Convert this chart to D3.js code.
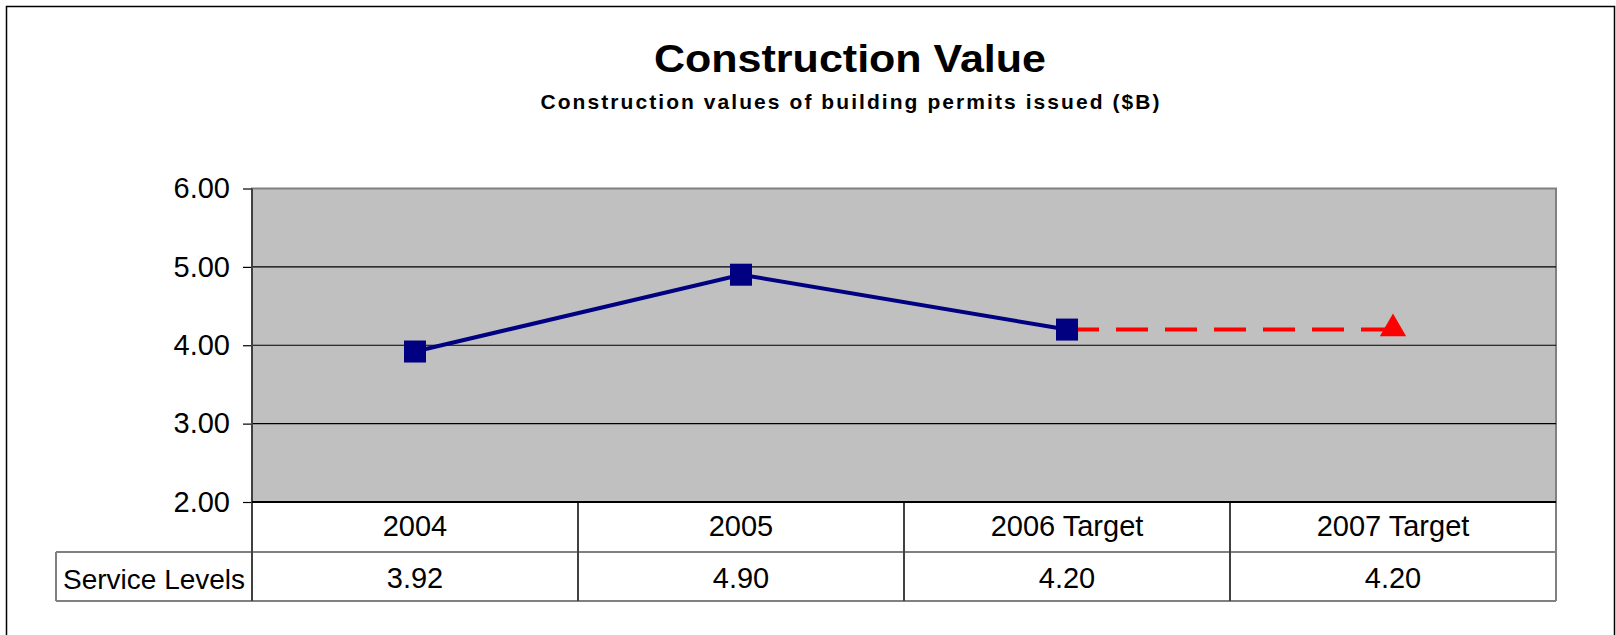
<!DOCTYPE html>
<html>
<head>
<meta charset="utf-8">
<script src="https://cdn.jsdelivr.net/npm/d3@7"></script>
<style>
  body { margin: 0; background: #fff; }
  svg { display: block; font-family: Arial, "Liberation Sans", sans-serif; }
</style>
</head>
<body>
<script>
// Chart data.
const categories = ["2004", "2005", "2006 Target", "2007 Target"];
const serviceLevels = [3.92, 4.9, 4.2, 4.2];
const actual = [3.92, 4.9, 4.2, null];
const target = [null, null, 4.2, 4.2];
const yTicks = [2, 3, 4, 5, 6];
const rowLabel = "Service Levels";
const title = "Construction Value";
const subtitle = "Construction values of building permits issued ($B)";

// Declare the chart dimensions and margins.
const width = 1616;
const height = 635;
const marginTop = 188.5;
const marginRight = 60;
const marginLeft = 252;
const plotBottom = 502;
const rowHeight = 50;
const labelLeft = 56;
const fontSize = 29;

const svg = d3
  .select("body")
  .append("svg")
  .attr("width", width)
  .attr("height", height)
  .attr("viewBox", [0, 0, width, height]);

// Outer frame (bottom edge runs off the picture).
svg
  .append("rect")
  .attr("x", 6.5)
  .attr("y", 6.5)
  .attr("width", 1608)
  .attr("height", 700)
  .attr("fill", "none")
  .attr("stroke", "#000")
  .attr("stroke-width", 1.5);

// Titles.
svg
  .append("text")
  .attr("x", 850)
  .attr("y", 72)
  .attr("text-anchor", "middle")
  .attr("font-size", 38)
  .attr("font-weight", "bold")
  .attr("textLength", 392)
  .attr("lengthAdjust", "spacingAndGlyphs")
  .text(title);

svg
  .append("text")
  .attr("x", 850)
  .attr("y", 109)
  .attr("text-anchor", "middle")
  .attr("font-size", 21)
  .attr("font-weight", "bold")
  .attr("textLength", 619)
  .attr("lengthAdjust", "spacing")
  .text(subtitle);

// Scales.
const x = d3
  .scaleBand()
  .domain(categories)
  .range([marginLeft, width - marginRight]);

const y = d3.scaleLinear([2, 6], [plotBottom, marginTop]);

// Plot area.
svg
  .append("rect")
  .attr("x", marginLeft)
  .attr("y", marginTop)
  .attr("width", width - marginRight - marginLeft)
  .attr("height", plotBottom - marginTop)
  .attr("fill", "#c0c0c0")
  .attr("stroke", "#808080")
  .attr("stroke-width", 2);

// Gridlines.
svg
  .append("g")
  .selectAll("line")
  .data(yTicks.filter((d) => d > 2 && d < 6))
  .join("line")
  .attr("x1", marginLeft)
  .attr("x2", width - marginRight)
  .attr("y1", (d) => y(d))
  .attr("y2", (d) => y(d))
  .attr("stroke", "#000")
  .attr("stroke-width", 1.2);

// Y axis.
svg
  .append("g")
  .attr("transform", `translate(${marginLeft},0)`)
  .call(
    d3
      .axisLeft(y)
      .tickValues(yTicks)
      .tickFormat(d3.format(".2f"))
      .tickSize(9)
      .tickPadding(13),
  )
  .call((g) => g.select(".domain").remove())
  .call((g) => g.selectAll(".tick line").attr("stroke", "#000").attr("stroke-width", 1.2))
  .call((g) =>
    g
      .selectAll(".tick text")
      .attr("font-size", fontSize)
      .attr("font-family", "Arial, 'Liberation Sans', sans-serif")
      .attr("fill", "#000"),
  );

// Data table below the plot.
const table = svg.append("g");
const tableBottom = plotBottom + 2 * rowHeight - 1;

table
  .selectAll("text.cat")
  .data(categories)
  .join("text")
  .attr("class", "cat")
  .attr("x", (d) => x(d) + x.bandwidth() / 2)
  .attr("y", plotBottom + 34)
  .attr("text-anchor", "middle")
  .attr("font-size", fontSize)
  .text((d) => d);

table
  .selectAll("text.val")
  .data(serviceLevels)
  .join("text")
  .attr("class", "val")
  .attr("x", (d, i) => x(categories[i]) + x.bandwidth() / 2)
  .attr("y", plotBottom + 86)
  .attr("text-anchor", "middle")
  .attr("font-size", fontSize)
  .text((d) => d3.format(".2f")(d));

table
  .append("text")
  .attr("x", labelLeft + 7)
  .attr("y", plotBottom + 87)
  .attr("font-size", 28)
  .text(rowLabel);

// Table horizontal rules.
table
  .append("line")
  .attr("x1", labelLeft)
  .attr("x2", width - marginRight)
  .attr("y1", plotBottom + rowHeight)
  .attr("y2", plotBottom + rowHeight)
  .attr("stroke", "#808080")
  .attr("stroke-width", 2);

table
  .append("line")
  .attr("x1", labelLeft)
  .attr("x2", width - marginRight)
  .attr("y1", tableBottom)
  .attr("y2", tableBottom)
  .attr("stroke", "#808080")
  .attr("stroke-width", 2);

// Table vertical rules.
table
  .selectAll("line.div")
  .data(categories.slice(1))
  .join("line")
  .attr("class", "div")
  .attr("x1", (d) => x(d))
  .attr("x2", (d) => x(d))
  .attr("y1", plotBottom)
  .attr("y2", tableBottom)
  .attr("stroke", "#404040")
  .attr("stroke-width", 2);

table
  .append("line")
  .attr("x1", width - marginRight)
  .attr("x2", width - marginRight)
  .attr("y1", plotBottom)
  .attr("y2", tableBottom)
  .attr("stroke", "#808080")
  .attr("stroke-width", 2);

table
  .append("line")
  .attr("x1", labelLeft)
  .attr("x2", labelLeft)
  .attr("y1", plotBottom + rowHeight)
  .attr("y2", tableBottom)
  .attr("stroke", "#808080")
  .attr("stroke-width", 2);

// Left axis line, running down through the table.
svg
  .append("line")
  .attr("x1", marginLeft)
  .attr("x2", marginLeft)
  .attr("y1", marginTop)
  .attr("y2", tableBottom)
  .attr("stroke", "#404040")
  .attr("stroke-width", 2);

// Category axis at 2.00.
svg
  .append("line")
  .attr("x1", marginLeft)
  .attr("x2", width - marginRight)
  .attr("y1", plotBottom)
  .attr("y2", plotBottom)
  .attr("stroke", "#000")
  .attr("stroke-width", 2);

// Series lines.
const line = d3
  .line()
  .defined((d) => d != null)
  .x((d, i) => x(categories[i]) + x.bandwidth() / 2)
  .y((d) => y(d));

svg
  .append("path")
  .attr("fill", "none")
  .attr("stroke", "red")
  .attr("stroke-width", 4)
  .attr("stroke-dasharray", "32,17")
  .attr("d", line(target));

svg
  .append("path")
  .attr("fill", "none")
  .attr("stroke", "#000080")
  .attr("stroke-width", 4)
  .attr("d", line(actual));

// Markers.
svg
  .append("g")
  .selectAll("rect")
  .data(actual.map((v, i) => [categories[i], v]).filter((d) => d[1] != null))
  .join("rect")
  .attr("x", (d) => x(d[0]) + x.bandwidth() / 2 - 11)
  .attr("y", (d) => y(d[1]) - 11)
  .attr("width", 22)
  .attr("height", 22)
  .attr("fill", "#000080");

const triangle = d3.symbol(d3.symbolTriangle, 300);

svg
  .append("g")
  .selectAll("path")
  .data(target.map((v, i) => [categories[i], v]).filter((d, i) => d[1] != null && i > 2))
  .join("path")
  .attr("transform", (d) => `translate(${x(d[0]) + x.bandwidth() / 2},${y(d[1]) - 1})`)
  .attr("d", triangle)
  .attr("fill", "red");
</script>
</body>
</html>
